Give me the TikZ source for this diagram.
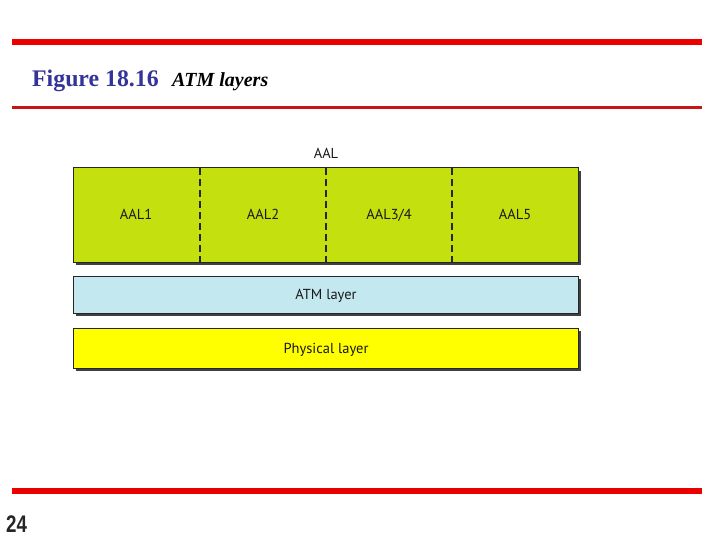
\documentclass[tikz,border=0pt]{standalone}
\usepackage{fontspec}
\setmainfont{Liberation Serif}
\newfontfamily\labfont{PT Sans}
\newfontfamily\numfont{Liberation Sans}
\definecolor{aalgreen}{RGB}{196,225,15}
\definecolor{atmblue}{RGB}{196,232,240}
\definecolor{phyyellow}{RGB}{255,255,0}
\definecolor{titleblue}{RGB}{51,51,153}
\definecolor{barred}{RGB}{235,0,0}
\definecolor{thinred}{RGB}{200,20,20}
\begin{document}
\begin{tikzpicture}[x=1pt,y=-1pt,
  layerbox/.style={draw=black!85,line width=1pt},
  lab/.style={font=\labfont\fontsize{14.5}{17}\selectfont,text=black!90,inner sep=0pt,anchor=base},
  divider/.style={line width=1.4pt,dash pattern=on 7pt off 4pt,black!85}]
\useasboundingbox (0,0) rectangle (720,540);
% red bars
\fill[barred] (12,39) rectangle (702,45);
\fill[thinred] (12,106) rectangle (702,109);
\fill[barred] (12,488) rectangle (702,494);
% title
\node[anchor=base west,inner sep=0pt,text=titleblue,font=\bfseries\fontsize{23.8}{28}\selectfont] (fig) at (32,87) {Figure 18.16};
\node[anchor=base west,inner sep=0pt,font=\bfseries\itshape\fontsize{20}{24}\selectfont] (ttl) at (172,87) {ATM layers};
% page number
\node[anchor=base west,inner sep=0pt,font=\numfont\bfseries\fontsize{24}{28}\selectfont,text=black!85,xscale=0.78] (pg) at (6,532) {24};
% AAL box
\fill[black!75] (76,171) rectangle (581,265);
\fill[aalgreen] (73,168) rectangle (578,262);
\draw[layerbox] (73,168) rectangle (578,262);
\draw[divider] (200,168) -- (200,262);
\draw[divider] (326,168) -- (326,262);
\draw[divider] (452,168) -- (452,262);
\node[lab] (aal) at (326,159) {AAL};
\node[lab] (aal1) at (136,220) {AAL1};
\node[lab] (aal2) at (263,220) {AAL2};
\node[lab] (aal34) at (389,220) {AAL3/4};
\node[lab] (aal5) at (515,220) {AAL5};
% ATM layer
\fill[black!75] (76,279) rectangle (581,316);
\fill[atmblue] (73,276) rectangle (578,313);
\draw[layerbox] (73,276) rectangle (578,313);
\node[lab] (atm) at (326,299.5) {ATM layer};
% Physical layer
\fill[black!75] (76,331) rectangle (581,371);
\fill[phyyellow] (73,328) rectangle (578,368);
\draw[layerbox] (73,328) rectangle (578,368);
\node[lab] (phy) at (326,353) {Physical layer};
\end{tikzpicture}
\end{document}
